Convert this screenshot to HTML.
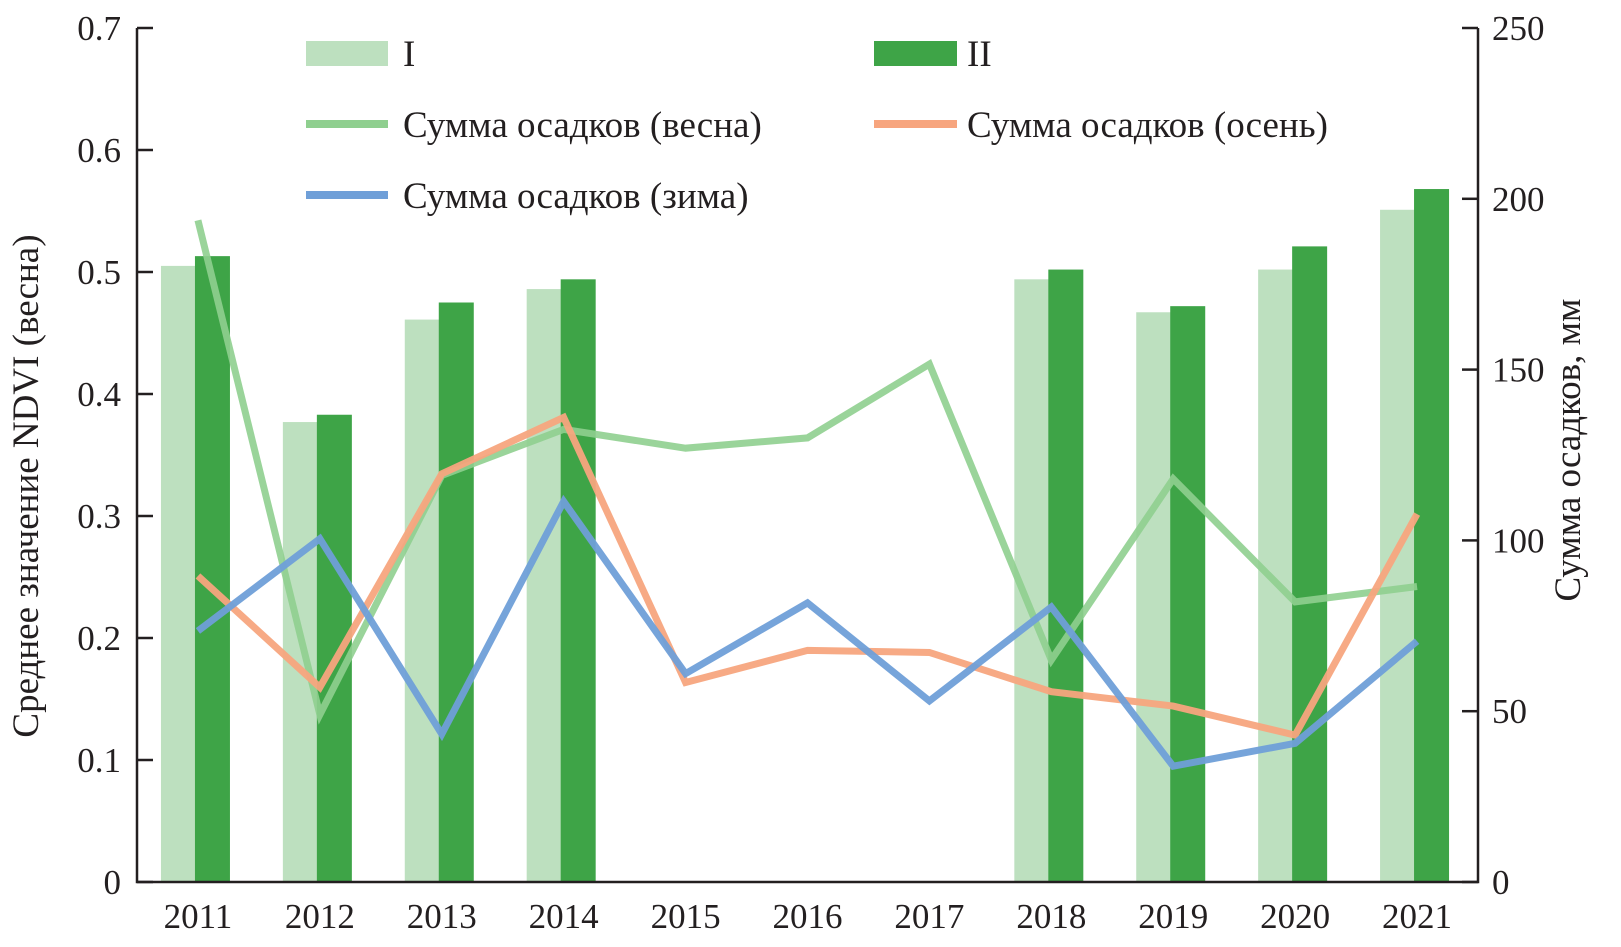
<!DOCTYPE html>
<html><head><meta charset="utf-8"><style>
body{margin:0;background:#fff}
svg text{font-family:"Liberation Serif",serif;fill:#231f20}
</style></head><body>
<svg id="chart" width="1621" height="942" viewBox="0 0 1621 942" xmlns="http://www.w3.org/2000/svg">
<g id="bars"></g>
<g id="lines"></g>
<g id="axes"></g>
<g>
<rect x="306" y="41" width="82" height="25" fill="#bde0bf"/>
<text x="403" y="66" font-size="37">I</text>
<rect x="874" y="41" width="83" height="25" fill="#3ea447"/>
<text x="967" y="66" font-size="37">II</text>
<line x1="306" x2="388" y1="124" y2="124" stroke="#8fcf8f" stroke-width="8"/>
<text x="403" y="137" font-size="37">Сумма осадков (весна)</text>
<line x1="874" x2="957" y1="124" y2="124" stroke="#f7a57e" stroke-width="8"/>
<text x="967" y="137" font-size="37">Сумма осадков (осень)</text>
<line x1="306" x2="388" y1="195" y2="195" stroke="#6f9fd8" stroke-width="8"/>
<text x="403" y="208" font-size="37">Сумма осадков (зима)</text>
</g>
<text transform="translate(38,486) rotate(-90)" text-anchor="middle" font-size="37">Среднее значение NDVI (весна)</text>
<text transform="translate(1580,450) rotate(-90)" text-anchor="middle" font-size="37">Сумма осадков, мм</text>
</svg>
<script>
const years=["2011","2012","2013","2014","2015","2016","2017","2018","2019","2020","2021"];
const ndviI=[0.505,0.377,0.461,0.486,null,null,null,0.494,0.467,0.502,0.551];
const ndviII=[0.513,0.383,0.475,0.494,null,null,null,0.502,0.472,0.521,0.568];
const rainSpring=[193.7,49,119,132.5,127,130,151.6,65,118,82,86.5];
const rainAutumn=[89.6,57,119.5,136,58.4,67.8,67.2,55.7,51.5,43,107.7];
const rainWinter=[73.5,100.5,43.3,111.4,61,81.7,53,80.5,33.9,40.6,70.5];
const leftTicks=["0","0.1","0.2","0.3","0.4","0.5","0.6","0.7"];
const rightTicks=["0","50","100","150","200","250"];

const NS="http://www.w3.org/2000/svg";
const L=137,R=1478,T=28,B=882;
const band=(R-L)/years.length;
const xc=i=>L+band*(i+0.5);
const yL=v=>B-(v/0.7)*(B-T);
const yR=v=>B-(v/250)*(B-T);
function mk(tag,attrs,parent){const e=document.createElementNS(NS,tag);for(const k in attrs)e.setAttribute(k,attrs[k]);parent.appendChild(e);return e;}
const bars=document.getElementById('bars'),lines=document.getElementById('lines'),axes=document.getElementById('axes');
years.forEach((y,i)=>{
  if(ndviI[i]!=null){const r=mk('rect',{x:xc(i)-37,y:yL(ndviI[i]),width:35,height:B-yL(ndviI[i]),fill:'#bde0bf'},bars);
    
    }
  if(ndviII[i]!=null){const r=mk('rect',{x:xc(i)-3,y:yL(ndviII[i]),width:35,height:B-yL(ndviII[i]),fill:'#3ea447'},bars);
    
    }
});
function line(data,color,name,op){
  const p=mk('polyline',{points:data.map((v,i)=>xc(i)+','+yR(v)).join(' '),fill:'none',stroke:color,'stroke-width':7,'stroke-linejoin':'miter','stroke-opacity':op},lines);
  
  
}
line(rainSpring,'#8fcf8f','line-spring',0.9);
line(rainAutumn,'#f7a57e','line-autumn',0.95);
line(rainWinter,'#6f9fd8','line-winter',0.95);
const ax=mk('path',{d:`M${L},${T}V${B}H${R}V${T}`,fill:'none',stroke:'#231f20','stroke-width':2.5},axes);


leftTicks.forEach((t,i)=>{const y=yL(i*0.1);
  const l=mk('line',{x1:L,x2:L+16,y1:y,y2:y,stroke:'#231f20','stroke-width':2.5},axes);
  
  
  const tx=mk('text',{x:L-16,y:y+12,'text-anchor':'end','font-size':35},axes);tx.textContent=t;
  
  
});
rightTicks.forEach((t,i)=>{const y=yR(i*50);
  const l=mk('line',{x1:R-16,x2:R,y1:y,y2:y,stroke:'#231f20','stroke-width':2.5},axes);
  
  
  const tx=mk('text',{x:R+14,y:y+12,'font-size':35},axes);tx.textContent=t;
  
  
});
years.forEach((y,i)=>{const tx=mk('text',{x:xc(i),y:928,'text-anchor':'middle','font-size':35},axes);tx.textContent=y;
  
  
});
</script>
</body></html>
